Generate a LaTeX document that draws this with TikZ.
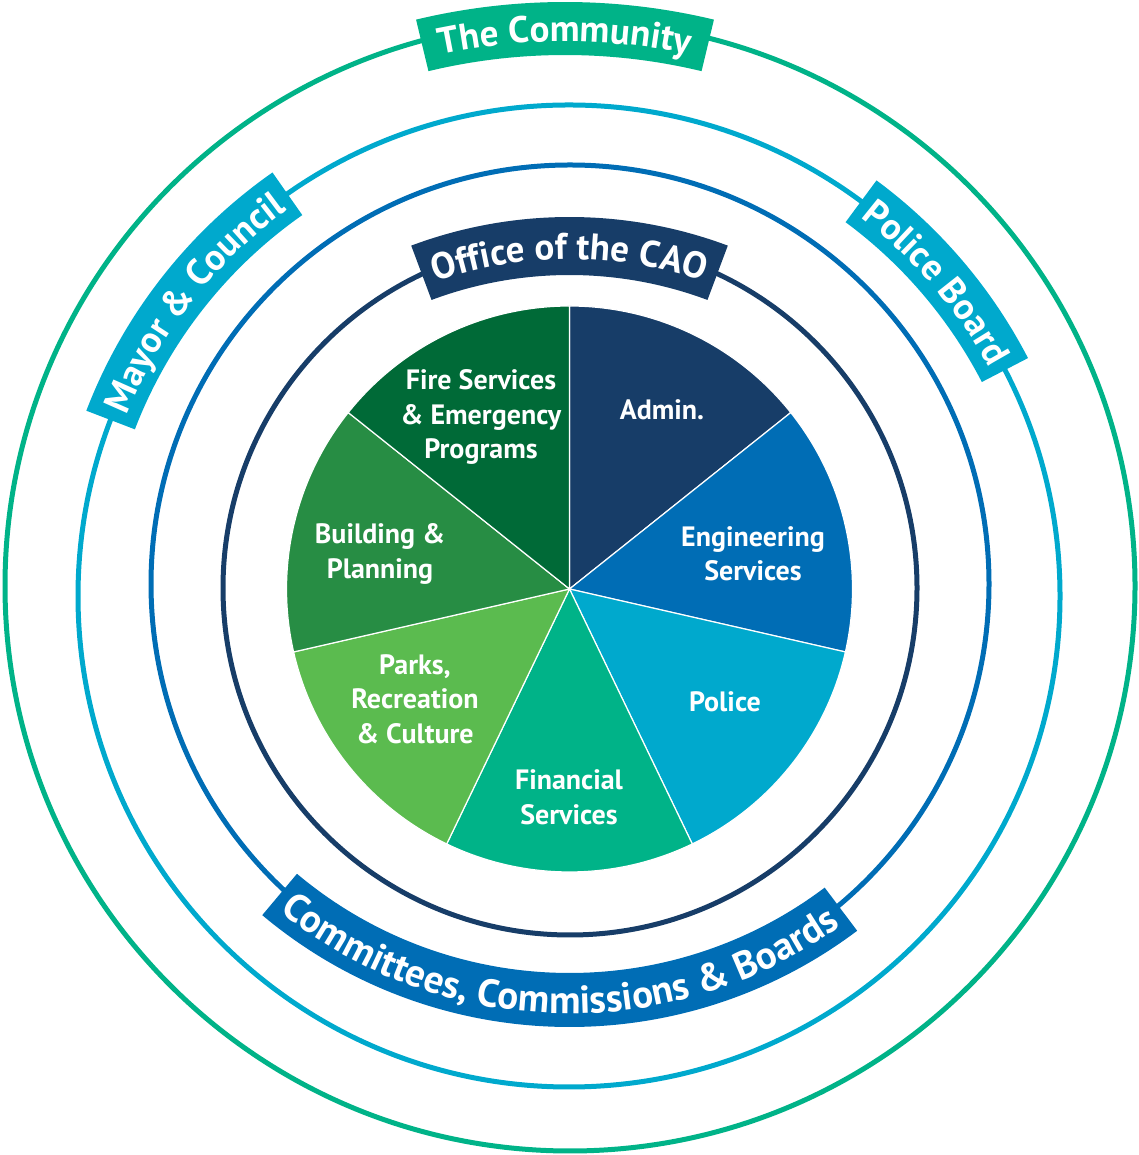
\documentclass[tikz,border=0pt]{standalone}
\usepackage{fontspec}
\setmainfont{PT Sans}
\usepackage{tikz}
\definecolor{gnavy}{HTML}{173D68}
\definecolor{gblue}{HTML}{006DB5}
\definecolor{gcyan}{HTML}{00A9CD}
\definecolor{gteal}{HTML}{00B388}
\definecolor{glime}{HTML}{5BBB4F}
\definecolor{ggreen}{HTML}{278D44}
\definecolor{gforest}{HTML}{006A37}
\usetikzlibrary{decorations.text}
\newcommand\bandfont{\bfseries\fontsize{37}{37}\selectfont}
\newcommand\bandfontlg{\bfseries\fontsize{39}{39}\selectfont}
\newcommand\piefont{\bfseries\fontsize{28}{34.5}\selectfont}

\begin{document}
\begin{tikzpicture}[x=1pt,y=1pt]
    \tikzset{
      ring/.style={line width=5pt},
      slice/.style={draw=white,line width=1.2pt},
      lbl/.style={text=white,align=center,inner sep=0pt,font=\piefont},
      curved/.style={decorate,decoration={text along path,text align=center,
        text color=white,text={#1}}}}
    \useasboundingbox (0,0) rectangle (1138,1155);
    % rings
    \draw[ring,gteal] (570,569) circle (565);
    \draw[ring,gcyan] (569,559) circle (491);
    \draw[ring,gblue] (570,571) circle (419);
    \draw[ring,gnavy] (570,567) circle (347);
    % banners
    \begin{scope}[shift={(565,515)}]
      \fill[gteal] (76.5:638) arc[start angle=76.5,end angle=103.5,radius=638]
        -- (103.5:585) arc[start angle=103.5,end angle=76.5,radius=585] -- cycle;
      \path[curved={|\bandfont|The Community}] (110:598.5) arc[start angle=110,end angle=70,radius=598.5];
    \end{scope}
    \begin{scope}[shift={(569,559)}]
      \fill[gcyan] (125:517) arc[start angle=125,end angle=159,radius=517]
        -- (159:465) arc[start angle=159,end angle=125,radius=465] -- cycle;
      \path[curved={|\bandfont|Mayor {\&} Council}] (166:478) arc[start angle=166,end angle=118,radius=478];
      \fill[gcyan] (27.4:517) arc[start angle=27.4,end angle=53.5,radius=517]
        -- (53.5:465) arc[start angle=53.5,end angle=27.4,radius=465] -- cycle;
      \path[curved={|\bandfont|Police Board}] (61:478) arc[start angle=61,end angle=20,radius=478];
    \end{scope}
    \begin{scope}[shift={(569.5,606)}]
      \fill[gblue] (230:478) arc[start angle=230,end angle=307,radius=478]
        -- (307:424) arc[start angle=307,end angle=230,radius=424] -- cycle;
      \path[curved={|\bandfontlg|Committees, Commissions {\&} Boards}] (219:464.5) arc[start angle=219,end angle=318,radius=464.5];
    \end{scope}
    \begin{scope}[shift={(569.5,486)}]
      \fill[gnavy] (69.5:452) arc[start angle=69.5,end angle=110.5,radius=452]
        -- (110.5:394) arc[start angle=110.5,end angle=69.5,radius=394] -- cycle;
      \path[curved={|\bandfont|Office of the CAO}] (118:410) arc[start angle=118,end angle=62,radius=410];
    \end{scope}
    % pie
    \coordinate (c) at (569.5,566);
    \foreach \col [count=\i from 0] in {gnavy,gblue,gcyan,gteal,glime,ggreen,gforest}
      \filldraw[slice,fill=\col] (c) -- ++({90-\i*360/7}:283)
        arc[start angle={90-\i*360/7},end angle={90-(\i+1)*360/7},radius=283] -- cycle;
    \node[lbl] (admin) at (662,745) {Admin.};
    \node[lbl] (eng) at (753,601) {Engineering\\Services};
    \node[lbl] (police) at (725,453) {Police};
    \node[lbl] (fin) at (569,358) {Financial\\Services};
    \node[lbl] (parks) at (415,456) {Parks,\\Recreation\\\& Culture};
    \node[lbl] (build) at (380,601) {Building \&\\Planning};
    \node[lbl] (fire) at (481,738) {Fire Services\\\& Emergency\\Programs};
\end{tikzpicture}
\end{document}
